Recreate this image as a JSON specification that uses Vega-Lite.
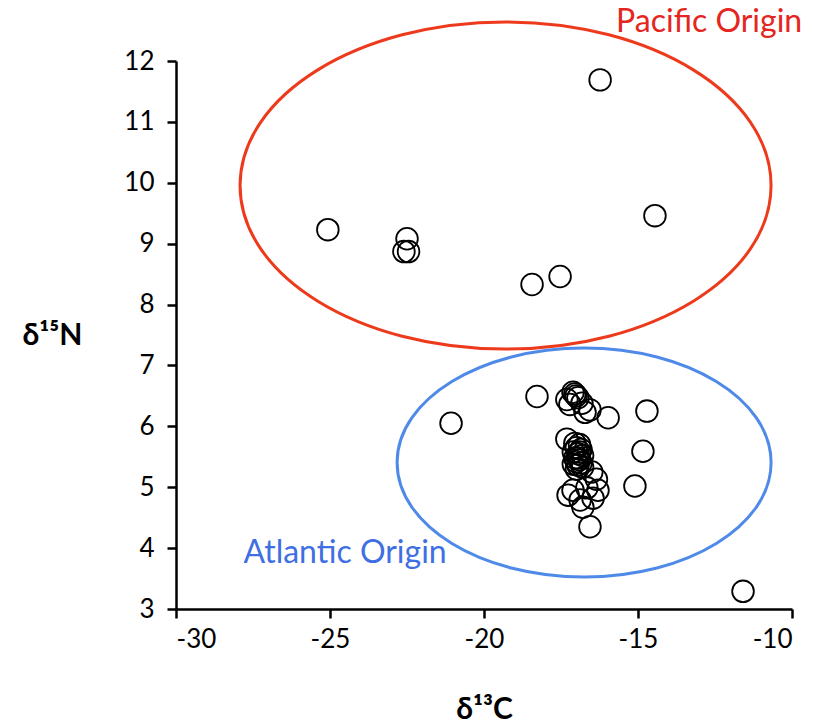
{
  "$schema": "https://vega.github.io/schema/vega-lite/v6.json",
  "width": 616,
  "height": 548,
  "autosize": "none",
  "padding": {"left": 176, "top": 61, "right": 29, "bottom": 116},
  "background": "white",
  "config": {
    "view": {"stroke": null},
    "font": "Lato",
    "axis": {
      "grid": false,
      "domainColor": "black",
      "domainWidth": 2.5,
      "tickColor": "black",
      "tickWidth": 2.5,
      "tickSize": 9,
      "labelFont": "Lato",
      "labelFontSize": 26,
      "labelColor": "black",
      "titleFont": "Lato",
      "titleFontSize": 30,
      "titleFontWeight": "bold",
      "titleColor": "black"
    }
  },
  "datasets": {
    "pts": [
      {"c": -16.23, "n": 11.69},
      {"c": -25.07, "n": 9.23},
      {"c": -22.5, "n": 9.08},
      {"c": -22.6, "n": 8.87},
      {"c": -22.45, "n": 8.87},
      {"c": -18.44, "n": 8.33},
      {"c": -17.53, "n": 8.46},
      {"c": -14.45, "n": 9.46},
      {"c": -21.07, "n": 6.05},
      {"c": -18.28, "n": 6.49},
      {"c": -11.59, "n": 3.29},
      {"c": -14.71, "n": 6.25},
      {"c": -14.84, "n": 5.59},
      {"c": -15.1, "n": 5.02},
      {"c": -17.31, "n": 6.44},
      {"c": -17.05, "n": 6.53},
      {"c": -16.95, "n": 6.47},
      {"c": -17.21, "n": 6.36},
      {"c": -16.82, "n": 6.38},
      {"c": -17.11, "n": 6.56},
      {"c": -17.01, "n": 6.5},
      {"c": -16.72, "n": 6.23},
      {"c": -16.56, "n": 6.27},
      {"c": -15.97, "n": 6.14},
      {"c": -17.31, "n": 5.79},
      {"c": -17.05, "n": 5.72},
      {"c": -16.9, "n": 5.7},
      {"c": -17.0, "n": 5.65},
      {"c": -16.85, "n": 5.62},
      {"c": -17.1, "n": 5.58},
      {"c": -16.95, "n": 5.55},
      {"c": -16.8, "n": 5.52},
      {"c": -17.05, "n": 5.48},
      {"c": -16.9, "n": 5.45},
      {"c": -17.0, "n": 5.42},
      {"c": -16.85, "n": 5.4},
      {"c": -17.1, "n": 5.38},
      {"c": -16.95, "n": 5.36},
      {"c": -16.8, "n": 5.33},
      {"c": -17.0, "n": 5.3},
      {"c": -16.9, "n": 5.58},
      {"c": -16.95, "n": 5.48},
      {"c": -16.5, "n": 5.25},
      {"c": -16.35, "n": 5.13},
      {"c": -17.11, "n": 4.95},
      {"c": -16.66, "n": 4.99},
      {"c": -16.3, "n": 4.95},
      {"c": -17.27, "n": 4.87},
      {"c": -16.88, "n": 4.79},
      {"c": -16.46, "n": 4.82},
      {"c": -16.79, "n": 4.67},
      {"c": -16.56, "n": 4.35}
    ],
    "regions": [
      {"region": "Pacific", "c": -19.3, "n": 9.955},
      {"region": "Atlantic", "c": -16.75, "n": 5.406}
    ],
    "labels": [
      {"label": "Pacific Origin", "c": -12.69, "n": 12.64},
      {"label": "Atlantic Origin", "c": -24.51, "n": 3.92}
    ]
  },
  "layer": [
    {
      "data": {"name": "regions"},
      "transform": [{"filter": "datum.region === 'Pacific'"}],
      "mark": {
        "type": "point",
        "shape": "M -1 0 A 1 0.616 0 1 1 1 0 A 1 0.616 0 1 1 -1 0 Z",
        "size": 281961,
        "filled": false,
        "stroke": "#ee3a1c",
        "strokeWidth": 3,
        "opacity": 1
      },
      "encoding": {
        "x": {"field": "c", "type": "quantitative"},
        "y": {"field": "n", "type": "quantitative"}
      }
    },
    {
      "data": {"name": "regions"},
      "transform": [{"filter": "datum.region === 'Atlantic'"}],
      "mark": {
        "type": "point",
        "shape": "M -1 0 A 1 0.612 0 1 1 1 0 A 1 0.612 0 1 1 -1 0 Z",
        "size": 139876,
        "filled": false,
        "stroke": "#4f8ae8",
        "strokeWidth": 3,
        "opacity": 1
      },
      "encoding": {
        "x": {"field": "c", "type": "quantitative"},
        "y": {"field": "n", "type": "quantitative"}
      }
    },
    {
      "data": {"name": "pts"},
      "mark": {
        "type": "point",
        "shape": "circle",
        "filled": false,
        "size": 470,
        "stroke": "black",
        "strokeWidth": 1.8,
        "opacity": 1
      },
      "encoding": {
        "x": {
          "field": "c",
          "type": "quantitative",
          "scale": {"domain": [-30, -10], "nice": false, "zero": false},
          "axis": {
            "title": "δ¹³C",
            "values": [-30, -25, -20, -15, -10],
            "labelExpr": "'' + datum.value",
            "labelPadding": 8,
            "titleY": 100,
            "titleBaseline": "middle"
          }
        },
        "y": {
          "field": "n",
          "type": "quantitative",
          "scale": {"domain": [3, 12], "nice": false, "zero": false},
          "axis": {
            "title": "δ¹⁵N",
            "values": [3, 4, 5, 6, 7, 8, 9, 10, 11, 12],
            "format": "d",
            "labelPadding": 13,
            "titleAngle": 0,
            "titleAlign": "center",
            "titleBaseline": "middle",
            "titleX": -124,
            "titleY": 274
          }
        }
      }
    },
    {
      "data": {"name": "labels"},
      "mark": {"type": "text", "fontSize": 32, "font": "Lato", "align": "center", "baseline": "middle"},
      "encoding": {
        "x": {"field": "c", "type": "quantitative"},
        "y": {"field": "n", "type": "quantitative"},
        "text": {"field": "label"},
        "color": {
          "field": "label",
          "type": "nominal",
          "scale": {"domain": ["Pacific Origin", "Atlantic Origin"], "range": ["#e52520", "#3f6fe2"]},
          "legend": null
        }
      }
    }
  ]
}
